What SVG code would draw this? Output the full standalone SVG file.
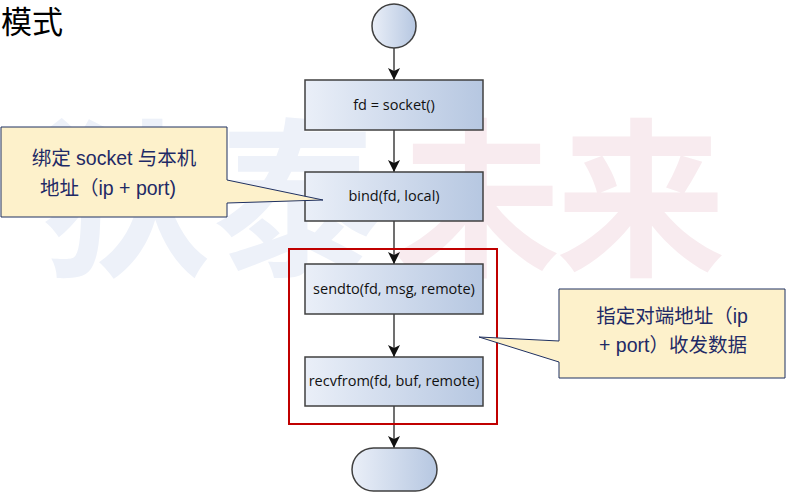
<svg xmlns="http://www.w3.org/2000/svg" width="788" height="494" viewBox="0 0 788 494">
<defs>
<linearGradient id="g" x1="0" y1="0" x2="1" y2="0">
<stop offset="0" stop-color="#eaeff8"/>
<stop offset="1" stop-color="#b6c7e1"/>
</linearGradient>
<marker id="arr" markerWidth="12" markerHeight="14" refX="12" refY="7" orient="auto" markerUnits="userSpaceOnUse">
<path d="M0,1 L12,7 L0,13 L3,7 Z" fill="#111"/>
</marker>
<style>
.node{fill:url(#g);stroke:#404040;stroke-width:1.5}
.lbl{font-family:"Segoe UI","Open Sans","Noto Sans",sans-serif;font-size:14.5px;fill:#111;text-anchor:middle}
.conn{stroke:#404040;stroke-width:1.5;fill:none;marker-end:url(#arr)}
.call{fill:#fdf1cb;stroke:#1f3060;stroke-width:1}
.ct{font-family:"Liberation Sans","Noto Sans CJK SC",sans-serif;font-size:19.5px;fill:#1f2a66;text-anchor:middle}
.wm{font-family:"Noto Sans CJK SC",sans-serif;font-weight:bold;font-size:170px}
</style>
</defs>
<rect width="788" height="494" fill="#fff"/>
<g id="watermark">
<text class="wm" x="42" y="263" fill="#edf1f9">狄泰</text>
<text class="wm" x="391" y="263" letter-spacing="-5" fill="#f8ebef">未来</text>
</g>
<text x="1" y="33" font-family="Noto Sans CJK SC,sans-serif" font-size="31" fill="#000">模式</text>
<g id="connectors">
<line class="conn" x1="394" y1="48" x2="394" y2="80"/>
<line class="conn" x1="394" y1="130" x2="394" y2="172"/>
<line class="conn" x1="394" y1="221" x2="394" y2="264"/>
<line class="conn" x1="394" y1="314" x2="394" y2="357"/>
<line class="conn" x1="394" y1="406" x2="394" y2="448"/>
</g>
<g id="start"><circle class="node" cx="394" cy="26" r="22"/></g>
<g id="socket"><rect class="node" x="305" y="80" width="178" height="50"/><text class="lbl" x="394" y="110">fd = socket()</text></g>
<g id="bind"><rect class="node" x="305" y="172" width="178" height="49"/><text class="lbl" x="394" y="201">bind(fd, local)</text></g>
<g id="loop"><rect x="289" y="249" width="208" height="175" fill="none" stroke="#c00000" stroke-width="2"/></g>
<g id="sendto"><rect class="node" x="305" y="264" width="178" height="50"/><text class="lbl" x="394" y="294">sendto(fd, msg, remote)</text></g>
<g id="recvfrom"><rect class="node" x="305" y="357" width="178" height="49"/><text class="lbl" x="394" y="386">recvfrom(fd, buf, remote)</text></g>
<g id="end"><rect class="node" x="352" y="448" width="85" height="43" rx="21.5"/></g>
<g id="callout-left">
<path class="call" d="M1,127 H227 V180 L323,200 L227,203 V217 H1 Z"/>
<text class="ct" x="114" y="165" font-size="20">绑定 socket 与本机</text>
<text class="ct" x="108" y="195" font-size="20">地址（ip + port)</text>
</g>
<g id="callout-right">
<path class="call" d="M559,289 H785 V378 H559 V362 L479,337 L559,341 Z"/>
<text class="ct" x="672" y="323">指定对端地址（ip</text>
<text class="ct" x="673" y="352">+ port）收发数据</text>
</g>
</svg>
